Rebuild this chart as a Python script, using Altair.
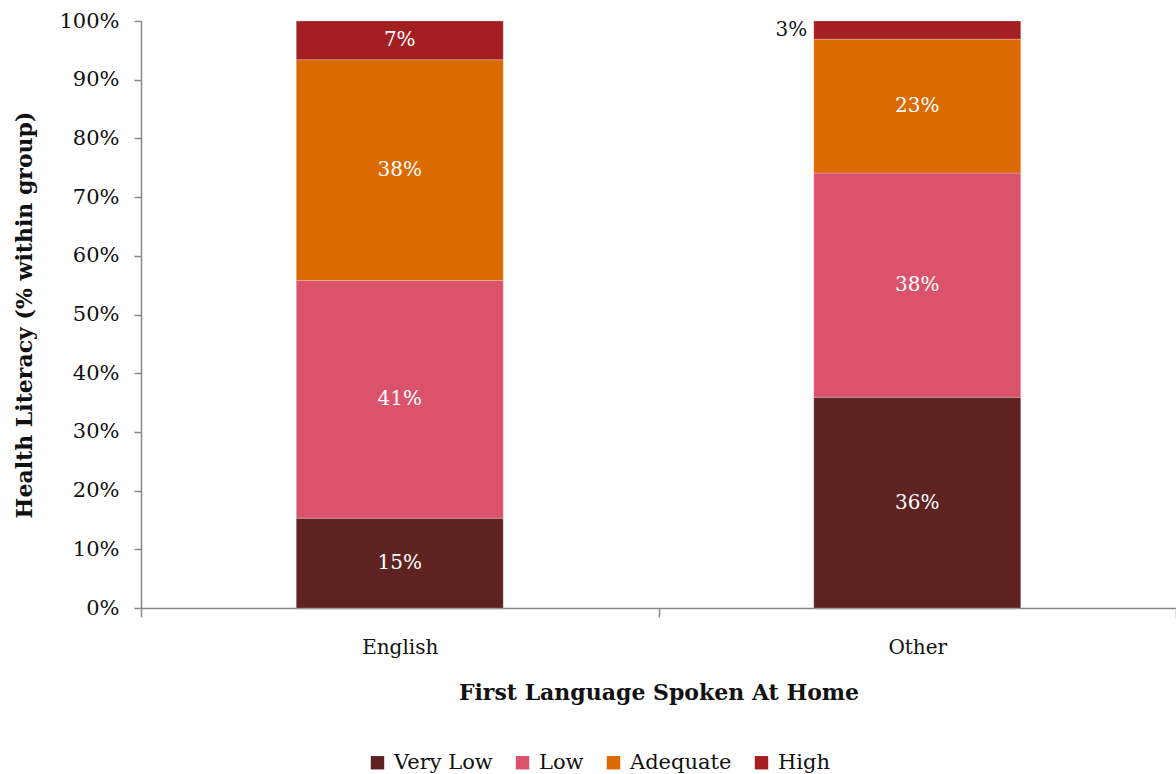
import altair as alt
import pandas as pd

languages = ["English", "Other"]
levels = ["Very Low", "Low", "Adequate", "High"]
colors = ["#5E2320", "#DB536A", "#DB6A00", "#A41F22"]
english_values = [15.3, 40.5, 37.6, 6.6]
other_values = [35.9, 38.2, 22.8, 3.1]
y_ticks = [0, 10, 20, 30, 40, 50, 60, 70, 80, 90, 100]

rows = []
for lang, vals in zip(languages, [english_values, other_values]):
    for i, (lev, v) in enumerate(zip(levels, vals)):
        rows.append({"language": lang, "level": lev, "order": i, "value": v})
df = pd.DataFrame(rows)

FONT = "DejaVu Serif"

base = alt.Chart(df).transform_stack(
    stack="value", groupby=["language"], as_=["v0", "v1"],
    sort=[alt.SortField("order")]
).transform_calculate(
    mid="(datum.v0 + datum.v1) / 2",
    label="format(datum.value, '.0f') + '%'"
)

x_enc = alt.X(
    "language:N", sort=languages,
    scale=alt.Scale(paddingInner=0, paddingOuter=0),
    axis=alt.Axis(
        title="First Language Spoken At Home", labelAngle=0,
        tickBand="extent", tickSize=9, labelPadding=20, titlePadding=25,
        labelFont=FONT, labelFontSize=20, labelColor="#111",
        titleFont=FONT, titleFontSize=22, titleFontWeight="bold", titleColor="#111",
        domainColor="#888888", tickColor="#888888", domainWidth=1.5, tickWidth=1.5,
    ),
)

bars = base.mark_bar(width=alt.RelativeBandSize(0.4), stroke="white", strokeWidth=0.4, strokeOpacity=0.6).encode(
    x=x_enc,
    y=alt.Y(
        "v0:Q",
        scale=alt.Scale(domain=[0, 100], nice=False),
        axis=alt.Axis(
            title="Health Literacy (% within group)", values=y_ticks,
            labelExpr="datum.value + '%'", grid=False, tickSize=7, labelPadding=15,
            titlePadding=22,
            labelFont=FONT, labelFontSize=21, labelColor="#111",
            titleFont=FONT, titleFontSize=22, titleFontWeight="bold", titleColor="#111",
            domainColor="#888888", tickColor="#888888", domainWidth=1.5, tickWidth=1.5,
        ),
    ),
    y2="v1:Q",
    color=alt.Color(
        "level:N",
        scale=alt.Scale(domain=levels, range=colors),
        legend=alt.Legend(
            title=None, orient="none", direction="horizontal",
            legendX=226, legendY=731, symbolType="square", symbolSize=180,
            symbolStrokeWidth=0, labelFont=FONT, labelFontSize=21, labelColor="#111",
            columnPadding=19, labelOffset=6,
        ),
    ),
)

inside = base.transform_filter("datum.value >= 5").mark_text(
    color="white", font=FONT, fontSize=20, baseline="middle"
).encode(x=alt.X("language:N", sort=languages), y="mid:Q", text="label:N")

outside = base.transform_filter("datum.value < 5").mark_text(
    color="#111", font=FONT, fontSize=20, baseline="middle", align="right", dx=-110
).encode(x=alt.X("language:N", sort=languages), y="mid:Q", text="label:N")

chart = alt.layer(bars, inside, outside).properties(
    width=1035, height=587,
    autosize=alt.AutoSizeParams(type="none"),
    padding={"left": 141, "top": 21, "right": 0, "bottom": 166},
).configure(background="white").configure_view(stroke="transparent", strokeWidth=0)

chart.save("out.html", embed_options={"renderer": "svg", "actions": False})
